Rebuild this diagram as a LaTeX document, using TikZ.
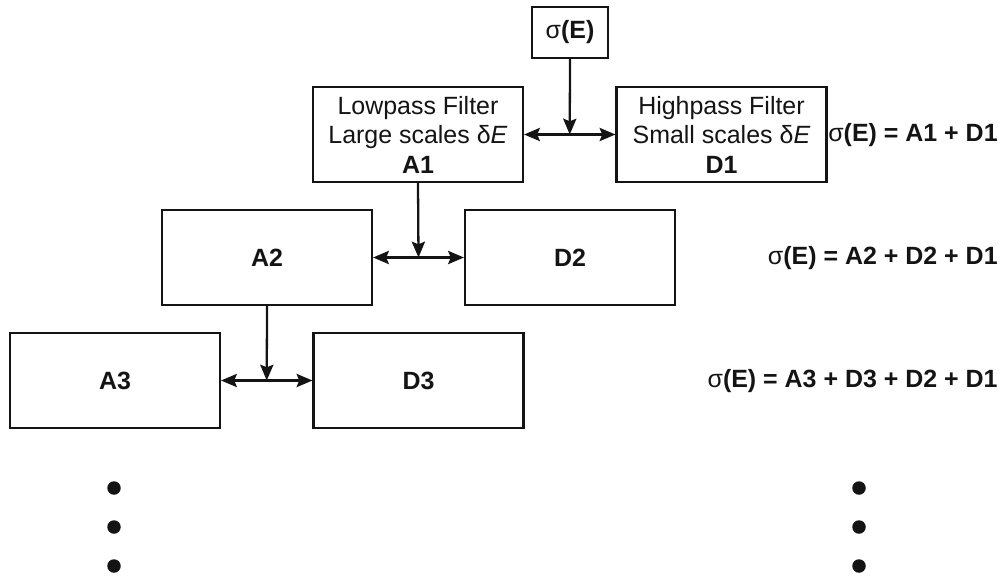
\documentclass[tikz,border=0pt]{standalone}
\usepackage{fontspec}
\setmainfont{Liberation Sans}
\usepackage{xcolor}
\definecolor{dwtInk}{RGB}{20, 20, 20}
\usepackage{tikz}
\usetikzlibrary{
    arrows.meta,
    calc
}

\begin{document}
\begin{tikzpicture}[
    filterBox/.style={
        rectangle, draw=dwtInk, line width=1.2pt,
        fill=white, text=dwtInk,
        font=\fontsize{14.2}{16.8}\selectfont, align=center,
        minimum width=4.2cm, minimum height=1.9cm, inner sep=2pt
    },
    sigmaBox/.style={
        rectangle, draw=dwtInk, line width=1.2pt,
        fill=white, text=dwtInk,
        font=\fontsize{14.2}{16.8}\selectfont,
        minimum width=1.52cm, minimum height=1.02cm, inner sep=2pt
    },
    eqLabel/.style={
        font=\fontsize{14.2}{16.8}\selectfont, text=dwtInk, anchor=east, inner sep=0pt
    },
    splitArrow/.style={
        {Stealth[length=9pt, width=7.5pt, inset=1.5pt]}-{Stealth[length=9pt, width=7.5pt, inset=1.5pt]},
        line width=1.3pt, draw=dwtInk
    },
    feedArrow/.style={
        -{Stealth[length=9pt, width=7.5pt, inset=1.5pt]}, line width=1.3pt, draw=dwtInk
    },
    moreDot/.style={
        circle, fill=dwtInk, inner sep=0pt, minimum size=0.27cm
    }
]
    \useasboundingbox (0,0) rectangle (20.08,-11.54);

    % Input signal
    \node[sigmaBox] (cSig) at (11.4, -0.65) {σ\textbf{(E)}};

    % Level 1: filter pair
    \node[filterBox] (cLow) at (8.36, -2.69) {
        Lowpass Filter\\
        Large scales δ\textit{E}\\
        \textbf{A1}
    };
    \node[filterBox] (cHigh) at (14.43, -2.69) {
        Highpass Filter\\
        Small scales δ\textit{E}\\
        \textbf{D1}
    };

    % Level 2
    \node[filterBox] (cA2) at (5.34, -5.15) {\textbf{A2}};
    \node[filterBox] (cD2) at (11.4, -5.15) {\textbf{D2}};

    % Level 3
    \node[filterBox] (cA3) at (2.3, -7.61) {\textbf{A3}};
    \node[filterBox] (cD3) at (8.37, -7.61) {\textbf{D3}};

    % Splitting points
    \coordinate (mid1) at ($(cLow.east)!0.5!(cHigh.west)$);
    \coordinate (mid2) at ($(cA2.east)!0.5!(cD2.west)$);
    \coordinate (mid3) at ($(cA3.east)!0.5!(cD3.west)$);

    % Connecting Arrows
    \draw[feedArrow] (cSig.south) -- (mid1);
    \draw[splitArrow] (cLow.east) -- (cHigh.west);
    \draw[feedArrow] (cLow.south) -- (mid2);
    \draw[splitArrow] (cA2.east) -- (cD2.west);
    \draw[feedArrow] (cA2.south) -- (mid3);
    \draw[splitArrow] (cA3.east) -- (cD3.west);

    % Decomposition sums
    \node[eqLabel] (eq1) at (19.96, -2.70) {σ\textbf{(E) = A1 + D1}};
    \node[eqLabel] (eq2) at (19.96, -5.16) {σ\textbf{(E) = A2 + D2 + D1}};
    \node[eqLabel] (eq3) at (19.96, -7.62) {σ\textbf{(E) = A3 + D3 + D2 + D1}};

    % Continuation dots
    \foreach \k/\y in {1/-9.76, 2/-10.54, 3/-11.32} {
        \node[moreDot] (dotL\k) at (2.28, \y) {};
        \node[moreDot] (dotR\k) at (17.18, \y) {};
    }

\end{tikzpicture}
\end{document}
